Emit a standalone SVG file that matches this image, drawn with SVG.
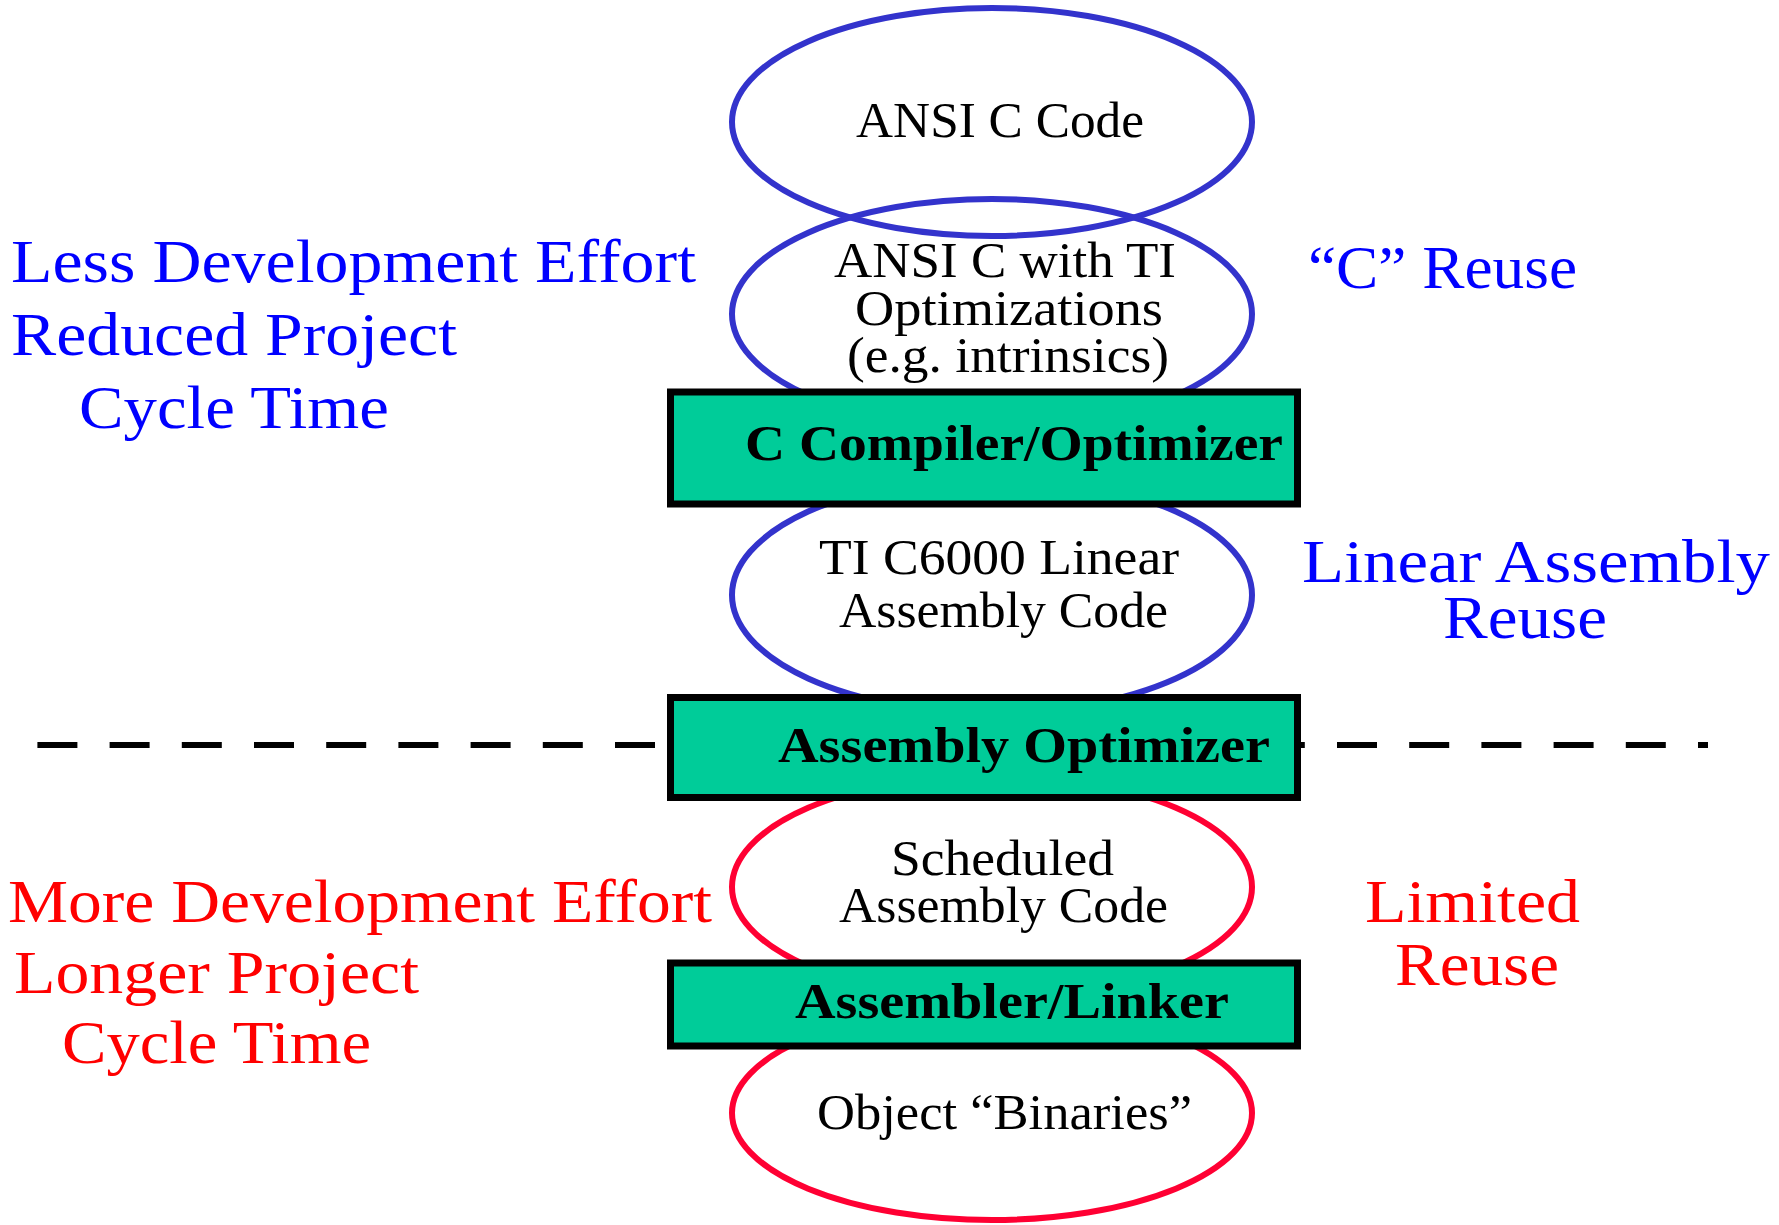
<svg xmlns="http://www.w3.org/2000/svg" width="1779" height="1225" viewBox="0 0 1779 1225">
<style>
.bg{fill:#ffffff}
.eb{fill:none;stroke:#3333CC;stroke-width:6}
.er{fill:none;stroke:#FF0033;stroke-width:6}
.box{fill:#00CC99;stroke:#000000;stroke-width:7}
.t{font-family:"Liberation Serif","Times New Roman",serif;font-size:51px;fill:#000000}
.tb{font-family:"Liberation Serif","Times New Roman",serif;font-size:50px;font-weight:bold;fill:#000000}
.lb{font-family:"Liberation Serif","Times New Roman",serif;font-size:62px;fill:#0000FF}
.lr{font-family:"Liberation Serif","Times New Roman",serif;font-size:62px;fill:#FF0000}
.dash{stroke:#000000;stroke-width:6;stroke-dasharray:40 32.2;fill:none}
</style>
<rect class="bg" x="0" y="0" width="1779" height="1225"/>

<g id="divider">
<line class="dash" x1="37.4" y1="745" x2="1708" y2="745"/>
</g>
<g id="connectors"></g>

<g id="ansi-c-code">
<ellipse class="eb" cx="992" cy="122" rx="260" ry="114"/>
<text class="t" x="856" y="137" textLength="288" lengthAdjust="spacingAndGlyphs">ANSI C Code</text>
</g>
<g id="ansi-c-ti">
<ellipse class="eb" cx="992" cy="314" rx="260" ry="115"/>
<text class="t" x="834" y="277" textLength="342" lengthAdjust="spacingAndGlyphs">ANSI C with TI</text>
<text class="t" x="855" y="325" textLength="308" lengthAdjust="spacingAndGlyphs">Optimizations</text>
<text class="t" x="847" y="372" textLength="322" lengthAdjust="spacingAndGlyphs">(e.g. intrinsics)</text>
</g>
<g id="linear-asm">
<ellipse class="eb" cx="992" cy="595" rx="260" ry="118"/>
<text class="t" x="819" y="574" textLength="360" lengthAdjust="spacingAndGlyphs">TI C6000 Linear</text>
<text class="t" x="839" y="627" textLength="329" lengthAdjust="spacingAndGlyphs">Assembly Code</text>
</g>
<g id="scheduled-asm">
<ellipse class="er" cx="992" cy="887" rx="260" ry="112"/>
<text class="t" x="891" y="875" textLength="223" lengthAdjust="spacingAndGlyphs">Scheduled</text>
<text class="t" x="839" y="922" textLength="329" lengthAdjust="spacingAndGlyphs">Assembly Code</text>
</g>
<g id="object-binaries">
<ellipse class="er" cx="992" cy="1113" rx="260" ry="107"/>
<text class="t" x="817" y="1129" textLength="375" lengthAdjust="spacingAndGlyphs">Object “Binaries”</text>
</g>

<g id="c-compiler">
<rect class="box" x="670.5" y="392" width="627" height="112"/>
<text class="tb" x="745" y="460" textLength="538" lengthAdjust="spacingAndGlyphs">C Compiler/Optimizer</text>
</g>
<g id="asm-optimizer">
<rect class="box" x="670.5" y="697.5" width="627" height="100"/>
<text class="tb" x="778" y="762" textLength="492" lengthAdjust="spacingAndGlyphs">Assembly Optimizer</text>
</g>
<g id="asm-linker">
<rect class="box" x="670.5" y="963" width="627" height="83"/>
<text class="tb" x="795" y="1018" textLength="434" lengthAdjust="spacingAndGlyphs">Assembler/Linker</text>
</g>

<g id="left-blue">
<text class="lb" x="11" y="282" textLength="685" lengthAdjust="spacingAndGlyphs">Less Development Effort</text>
<text class="lb" x="11" y="355" textLength="446" lengthAdjust="spacingAndGlyphs">Reduced Project</text>
<text class="lb" x="79" y="428" textLength="310" lengthAdjust="spacingAndGlyphs">Cycle Time</text>
</g>
<g id="left-red">
<text class="lr" x="8" y="922" textLength="704" lengthAdjust="spacingAndGlyphs">More Development Effort</text>
<text class="lr" x="14" y="993" textLength="405" lengthAdjust="spacingAndGlyphs">Longer Project</text>
<text class="lr" x="62" y="1063" textLength="309" lengthAdjust="spacingAndGlyphs">Cycle Time</text>
</g>
<g id="right-blue">
<text class="lb" x="1308" y="288" textLength="269" lengthAdjust="spacingAndGlyphs">“C” Reuse</text>
<text class="lb" x="1302" y="582" textLength="468" lengthAdjust="spacingAndGlyphs">Linear Assembly</text>
<text class="lb" x="1443" y="638" textLength="164" lengthAdjust="spacingAndGlyphs">Reuse</text>
</g>
<g id="right-red">
<text class="lr" x="1365" y="922" textLength="215" lengthAdjust="spacingAndGlyphs">Limited</text>
<text class="lr" x="1395" y="985" textLength="164" lengthAdjust="spacingAndGlyphs">Reuse</text>
</g>
</svg>
